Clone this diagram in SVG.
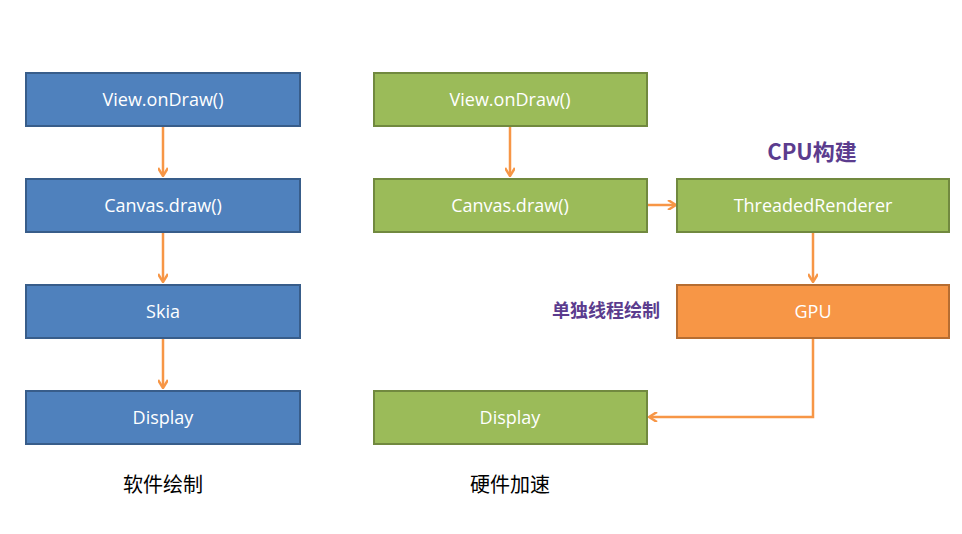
<svg xmlns="http://www.w3.org/2000/svg" width="962" height="534" viewBox="0 0 962 534">
<style>
.b{fill:#4f81bd;stroke:#385d8a;stroke-width:2}
.g{fill:#9bbb59;stroke:#71893f;stroke-width:2}
.o{fill:#f79646;stroke:#b66d31;stroke-width:2}
.t{font-family:"Open Sans","Noto Sans",sans-serif;font-size:18px;fill:#fff;text-anchor:middle;dominant-baseline:central}
.c{font-family:"Noto Sans CJK SC",sans-serif;font-size:20px;fill:#000;text-anchor:middle}
.p{font-family:"Noto Sans CJK SC",sans-serif;font-weight:bold;fill:#5b3c8e}
.e{fill:none;stroke:#f79646;stroke-width:2.5}
</style>
<defs><marker id="a" markerWidth="10" markerHeight="10" refX="8" refY="5" orient="auto" markerUnits="userSpaceOnUse"><path d="M1,0 L9,5 L1,10" fill="none" stroke="#f79646" stroke-width="2.5"/></marker></defs>
<rect width="962" height="534" fill="#fff"/>
<g id="edges">
<path class="e" d="M163,126V175" marker-end="url(#a)"/>
<path class="e" d="M163,232V281" marker-end="url(#a)"/>
<path class="e" d="M163,338V387" marker-end="url(#a)"/>
<path class="e" d="M510,126V175" marker-end="url(#a)"/>
<path class="e" d="M647,205H675" marker-end="url(#a)"/>
<path class="e" d="M813,232V281" marker-end="url(#a)"/>
<path class="e" d="M813,338V417H650" marker-end="url(#a)"/>
</g>
<g id="l1"><rect class="b" x="26" y="73" width="274" height="53"/><text class="t" x="163" y="99">View.onDraw()</text></g>
<g id="l2"><rect class="b" x="26" y="179" width="274" height="53"/><text class="t" x="163" y="205">Canvas.draw()</text></g>
<g id="l3"><rect class="b" x="26" y="285" width="274" height="53"/><text class="t" x="163" y="311">Skia</text></g>
<g id="l4"><rect class="b" x="26" y="391" width="274" height="53"/><text class="t" x="163" y="417">Display</text></g>
<g id="r1"><rect class="g" x="374" y="73" width="273" height="53"/><text class="t" x="510" y="99">View.onDraw()</text></g>
<g id="r2"><rect class="g" x="374" y="179" width="273" height="53"/><text class="t" x="510" y="205">Canvas.draw()</text></g>
<g id="r3"><rect class="g" x="677" y="179" width="272" height="53"/><text class="t" x="813" y="205">ThreadedRenderer</text></g>
<g id="r4"><rect class="o" x="677" y="285" width="272" height="53"/><text class="t" x="813" y="311">GPU</text></g>
<g id="r5"><rect class="g" x="374" y="391" width="273" height="53"/><text class="t" x="510" y="417">Display</text></g>
<text class="c" x="163" y="492">软件绘制</text>
<text class="c" x="510" y="492">硬件加速</text>
<text class="p" x="812" y="160" font-size="22" text-anchor="middle">CPU构建</text>
<text class="p" x="606" y="317" font-size="18" text-anchor="middle">单独线程绘制</text>
</svg>
